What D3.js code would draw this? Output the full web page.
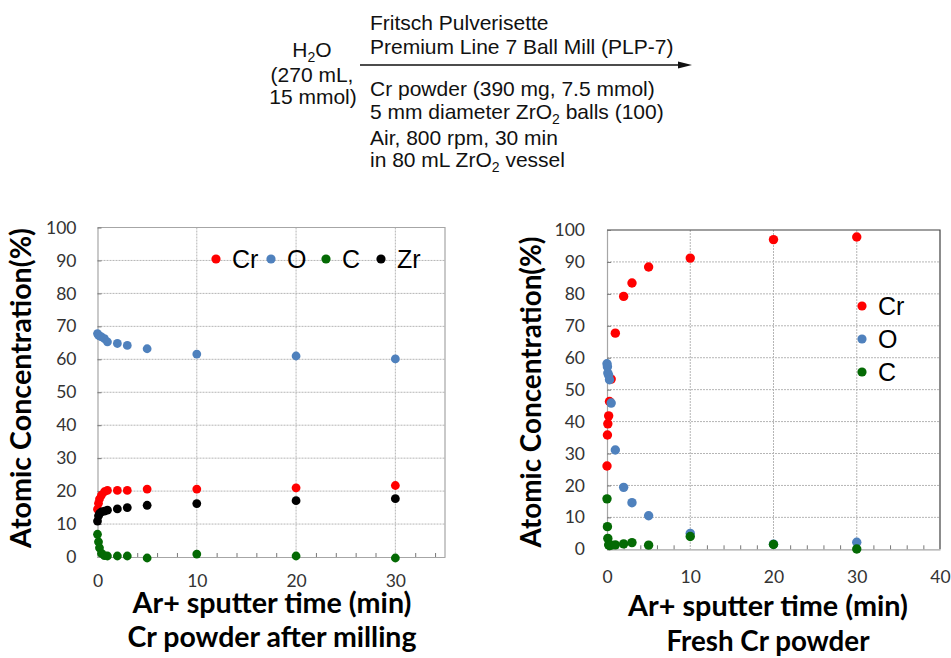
<!DOCTYPE html>
<html>
<head>
<meta charset="utf-8">
<script src="https://cdn.jsdelivr.net/npm/d3@7/dist/d3.min.js"></script>
<style>
  body { margin: 0; background: #fff; }
</style>
</head>
<body>
<svg id="chart" width="951" height="658"></svg>
<script>
// --- data ---
// left panel: Cr powder after milling (sputter time in min, atomic %)
const millTime = [0, 0.1, 0.2, 0.4, 0.7, 1, 2, 3, 5, 10, 20, 30];
const millCr   = [14.5, 16.3, 17.6, 18.8, 19.8, 20.2, 20.2, 20.2, 20.6, 20.6, 21.0, 21.7];
const millO    = [67.8, 67.3, 67.1, 66.8, 66.3, 65.3, 64.8, 64.2, 63.2, 61.6, 61.0, 60.1];
const millC    = [6.9, 4.6, 2.8, 1.1, 0.4, 0.3, 0.3, 0.3, -0.3, 0.9, 0.3, -0.3];
const millZr   = [10.9, 12.5, 13.2, 13.7, 13.9, 14.2, 14.6, 15.0, 15.7, 16.2, 17.1, 17.7];

// right panel: fresh Cr powder
const freshTime = [0, 0.05, 0.1, 0.2, 0.3, 0.5, 1, 2, 3, 5, 10, 20, 30];
const freshCr   = [26.1, 35.8, 39.3, 41.8, 46.3, 53.3, 67.7, 79.2, 83.4, 88.4, 91.2, 97.0, 97.8];
const freshO    = [58.1, 57.2, 55.2, 54.5, 53.1, 45.8, 31.1, 19.4, 14.6, 10.5, 5.0, 1.6, 2.2];
const freshC    = [15.8, 7.1, 3.4, 1.4, 1.2, 1.3, 1.4, 1.7, 2.1, 1.3, 4.0, 1.5, 0.1];

const yTicks = [0, 10, 20, 30, 40, 50, 60, 70, 80, 90, 100];
const millXTicks = [0, 10, 20, 30];
const freshXTicks = [0, 10, 20, 30, 40];

const colors = { Cr: "#ff0000", O: "#4f81bd", C: "#046a04", Zr: "#000000" };

const svg = d3.select("#chart");
svg.append("rect").attr("width", 951).attr("height", 658).attr("fill", "#fff");

const tickFont = "Lato, 'Open Sans', sans-serif";
const arial = "'Liberation Sans', Arial, sans-serif";

// scale the font size of a text so that it spans the given width
function fitWidth(sel, w) {
  const cur = sel.node().getComputedTextLength();
  const fs = parseFloat(sel.attr("font-size"));
  sel.attr("font-size", (fs * w / cur).toFixed(2));
}

// --- reaction scheme at the top ---
const scheme = svg.append("g").attr("font-family", arial).attr("font-size", 21).attr("fill", "#111");

const h2o = scheme.append("text").attr("x", 312).attr("y", 57).attr("text-anchor", "middle");
h2o.append("tspan").text("H");
h2o.append("tspan").attr("font-size", 14).attr("dy", 5).text("2");
h2o.append("tspan").attr("dy", -5).text("O");
scheme.append("text").attr("x", 312).attr("y", 82).attr("text-anchor", "middle").text("(270 mL,");
scheme.append("text").attr("x", 313).attr("y", 104).attr("text-anchor", "middle").text("15 mmol)");

scheme.append("text").attr("x", 370).attr("y", 30).text("Fritsch Pulverisette");
scheme.append("text").attr("x", 370).attr("y", 54).text("Premium Line 7 Ball Mill (PLP-7)");
scheme.append("text").attr("x", 370).attr("y", 96).text("Cr powder (390 mg, 7.5 mmol)");
const zr1 = scheme.append("text").attr("x", 370).attr("y", 119);
zr1.append("tspan").text("5 mm diameter ZrO");
zr1.append("tspan").attr("font-size", 14).attr("dy", 5).text("2");
zr1.append("tspan").attr("dy", -5).text(" balls (100)");
scheme.append("text").attr("x", 370).attr("y", 145).text("Air, 800 rpm, 30 min");
const zr2 = scheme.append("text").attr("x", 370).attr("y", 167);
zr2.append("tspan").text("in 80 mL ZrO");
zr2.append("tspan").attr("font-size", 14).attr("dy", 5).text("2");
zr2.append("tspan").attr("dy", -5).text(" vessel");

scheme.append("line").attr("x1", 360).attr("x2", 680).attr("y1", 65).attr("y2", 65)
  .attr("stroke", "#111").attr("stroke-width", 1.3);
scheme.append("path").attr("d", "M678,61.5 L692,65 L678,68.5 Z").attr("fill", "#111");

// --- one scatter panel ---
function drawPanel(p) {
  const x = d3.scaleLinear().domain([0, p.xMax]).range([p.left, p.right]);
  const y = d3.scaleLinear().domain([0, 100]).range([p.bottom, p.top]);
  const g = svg.append("g");

  // dotted grid
  g.append("g").selectAll("line").data(yTicks.filter(d => d > 0 && d < 100)).join("line")
    .attr("x1", p.left).attr("x2", p.right).attr("y1", d => y(d)).attr("y2", d => y(d))
    .attr("stroke", "#b5b5b5").attr("stroke-dasharray", "2,1");
  g.append("g").selectAll("line").data(p.xTicks.filter(d => d > 0 && d < p.xMax)).join("line")
    .attr("x1", d => x(d)).attr("x2", d => x(d)).attr("y1", p.top).attr("y2", p.bottom)
    .attr("stroke", "#b5b5b5").attr("stroke-dasharray", "2,1");

  // frame (top and right)
  g.append("path")
    .attr("d", `M${p.left},${p.top}H${p.right}V${p.bottom}`)
    .attr("fill", "none").attr("stroke", p.frame).attr("stroke-width", 1.2);

  // y axis
  const ya = g.append("g").attr("transform", `translate(${p.left},0)`)
    .call(d3.axisLeft(y).tickValues(yTicks).tickSizeInner(-4).tickSizeOuter(0).tickPadding(p.yPad));
  ya.select(".domain").attr("stroke", "#a6a6a6").attr("stroke-width", 1.2);
  ya.selectAll(".tick line").attr("stroke", "#777");
  ya.selectAll("text").attr("font-family", tickFont).attr("font-size", 17.5).attr("fill", "#333");

  // x axis labels
  const xa = g.append("g").attr("transform", `translate(0,${p.bottom})`)
    .call(d3.axisBottom(x).tickValues(p.xTicks).tickSize(0).tickPadding(p.xPad));
  xa.select(".domain").attr("stroke", "#a6a6a6").attr("stroke-width", 1.2);
  xa.selectAll("text").attr("font-family", tickFont).attr("font-size", 17.5).attr("fill", "#333");

  // minor ticks every 2 min
  const minor = d3.range(2, p.xMax, 2).filter(d => d % 10 !== 0);
  const xm = g.append("g").attr("transform", `translate(0,${p.bottom})`)
    .call(d3.axisBottom(x).tickValues(minor).tickSizeInner(-4).tickSizeOuter(0).tickFormat(""));
  xm.select(".domain").remove();
  xm.selectAll(".tick line").attr("stroke", "#777");

  // points
  p.series.forEach(s => {
    g.append("g").selectAll("circle").data(s.xs.map((t, i) => [t, s.ys[i]])).join("circle")
      .attr("cx", d => x(d[0])).attr("cy", d => y(d[1])).attr("r", p.r)
      .attr("fill", colors[s.name]);
  });

  // axis titles
  const yt = svg.append("text")
    .attr("transform", `translate(${p.yTitleX},${p.yTitleMid}) rotate(-90)`)
    .attr("text-anchor", "middle").attr("font-family", tickFont).attr("font-weight", 700)
    .attr("font-size", 25).attr("fill", "#000").text("Atomic Concentration(%)");
  fitWidth(yt, p.yTitleW);

  p.xTitles.forEach(t => {
    const tx = svg.append("text").attr("x", t.x).attr("y", t.y).attr("text-anchor", "middle")
      .attr("font-family", tickFont).attr("font-weight", 700).attr("font-size", 25)
      .attr("fill", "#000").text(t.text);
    fitWidth(tx, t.w);
  });

  // legend
  p.legend.forEach((l, i) => {
    const lx = p.legendX + i * p.legendDx, ly = p.legendY + i * p.legendDy;
    svg.append("circle").attr("cx", lx).attr("cy", ly).attr("r", 4.6).attr("fill", colors[l]);
    svg.append("text").attr("x", lx + 16).attr("y", ly + 9)
      .attr("font-family", arial).attr("font-size", 25).attr("fill", "#000").text(l);
  });
}

drawPanel({
  left: 97.5, right: 445, top: 227.5, bottom: 557, xMax: 35, xTicks: millXTicks,
  frame: "#a6a6a6", yPad: 21, xPad: 18, r: 4.4,
  series: [
    { name: "Cr", xs: millTime, ys: millCr },
    { name: "O", xs: millTime, ys: millO },
    { name: "C", xs: millTime, ys: millC },
    { name: "Zr", xs: millTime, ys: millZr }
  ],
  yTitleX: 31, yTitleMid: 388, yTitleW: 320,
  xTitles: [
    { text: "Ar+ sputter time (min)", x: 272, y: 613, w: 279 },
    { text: "Cr powder after milling", x: 272, y: 647, w: 289 }
  ],
  legend: ["Cr", "O", "C", "Zr"], legendX: 216, legendY: 259, legendDx: 55, legendDy: 0
});

drawPanel({
  left: 607, right: 940, top: 230, bottom: 549.3, xMax: 40, xTicks: freshXTicks,
  frame: "#404040", yPad: 22, xPad: 21, r: 4.7,
  series: [
    { name: "Cr", xs: freshTime, ys: freshCr },
    { name: "O", xs: freshTime, ys: freshO },
    { name: "C", xs: freshTime, ys: freshC }
  ],
  yTitleX: 541, yTitleMid: 392, yTitleW: 311,
  xTitles: [
    { text: "Ar+ sputter time (min)", x: 768, y: 616, w: 280 },
    { text: "Fresh Cr powder", x: 768, y: 651, w: 203 }
  ],
  legend: ["Cr", "O", "C"], legendX: 862, legendY: 306, legendDx: 0, legendDy: 33
});
</script>
</body>
</html>
